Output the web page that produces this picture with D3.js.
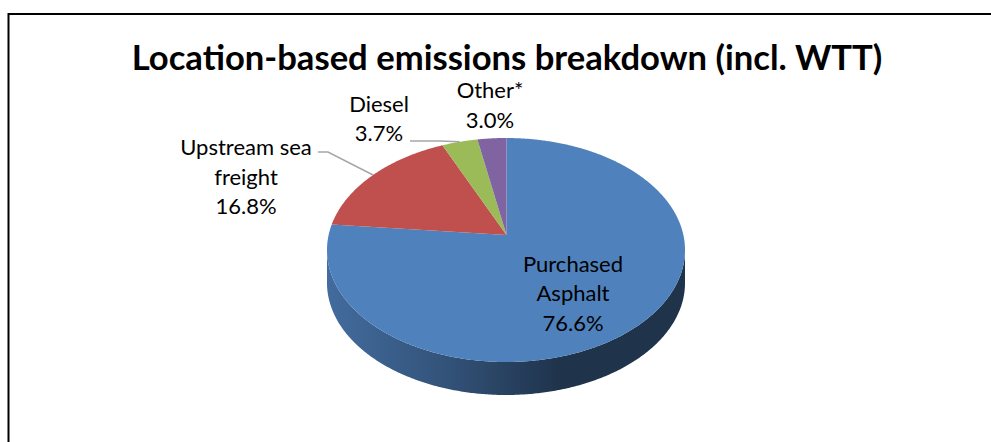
<!DOCTYPE html>
<html>
<head>
<meta charset="utf-8">
<script src="https://cdn.jsdelivr.net/npm/d3@7"></script>
<style>
  html, body { margin: 0; padding: 0; background: #fff; }
  svg { display: block; }
</style>
</head>
<body>
<svg id="chart" width="991" height="442"></svg>
<script>
// data
const categories = ["Purchased Asphalt", "Upstream sea freight", "Diesel", "Other*"];
const shares = [76.6, 16.8, 3.7, 3.0];
const labelLines = [["Purchased", "Asphalt"], ["Upstream sea", "freight"], ["Diesel"], ["Other*"]];
const colors = ["#4f81bd", "#c0504d", "#9bbb59", "#8064a2"];
const title = "Location-based emissions breakdown (incl. WTT)";

const width = 991, height = 442;
const svg = d3.select("#chart");

// geometry of the tilted pie (ellipse outline, apex pulled up by perspective)
const cx = 506, cy = 250, rx = 179, ry = 112;
const ax = 506.5, ay = 235;
const depth = 33;

// point on outline hit by the ray from apex for a pie angle
function rim(a) {
  const dx = rx * Math.sin(a), dy = -ry * Math.cos(a);
  const px = (ax - cx) / rx, py = (ay - cy) / ry;
  const qx = dx / rx, qy = dy / ry;
  const A = qx * qx + qy * qy, B = 2 * (px * qx + py * qy), C = px * px + py * py - 1;
  const t = (-B + Math.sqrt(B * B - 4 * A * C)) / (2 * A);
  return [ax + dx * t, ay + dy * t];
}

const pie = d3.pie().sort(null).value(d => d.value);
const arcs = pie(categories.map((c, i) => ({ name: c, value: shares[i], i })));

const line = d3.line();

// frame
svg.append("rect")
  .attr("x", 8.5).attr("y", 14)
  .attr("width", 1100).attr("height", 600)
  .attr("fill", "none")
  .attr("stroke", "#000")
  .attr("stroke-width", 2);

// title, fitted to the reference width
const titleText = svg.append("text")
  .attr("x", 507).attr("y", 69.5)
  .attr("text-anchor", "middle")
  .attr("font-family", "Lato, 'Open Sans', sans-serif")
  .attr("font-weight", 700)
  .attr("font-size", 32)
  .attr("fill", "#000")
  .text(title);
const tw = titleText.node().getComputedTextLength();
titleText.attr("font-size", 32 * 751 / tw);

// side wall gradient
const defs = svg.append("defs");
const grads = colors.map((c, i) => {
  const g = defs.append("linearGradient")
    .attr("id", "side" + i)
    .attr("gradientUnits", "userSpaceOnUse")
    .attr("x1", cx - rx).attr("x2", cx + rx)
    .attr("y1", 0).attr("y2", 0);
  [[0, 0.5], [0.35, 1.3], [0.65, 2.6], [1, 2.6]].forEach(([o, k]) => {
    g.append("stop").attr("offset", o).attr("stop-color", d3.color(c).darker(k));
  });
  return "url(#side" + i + ")";
});

// side walls: the front half of each slice's rim
const step = Math.PI / 360;
arcs.forEach(d => {
  const pts = [];
  for (let a = d.startAngle; a <= d.endAngle + 1e-9; a += step) {
    const p = rim(Math.min(a, d.endAngle));
    if (p[1] >= cy - 0.5) pts.push(p);
  }
  if (pts.length < 2) return;
  const lower = pts.slice().reverse().map(p => [p[0], p[1] + depth]);
  svg.append("path")
    .attr("d", line(pts.concat(lower)) + "Z")
    .attr("fill", grads[d.data.i]);
});

// top faces
svg.append("g")
  .selectAll("path")
  .data(arcs)
  .join("path")
    .attr("d", d => {
      const pts = [[ax, ay]];
      for (let a = d.startAngle; a < d.endAngle; a += step) pts.push(rim(a));
      pts.push(rim(d.endAngle));
      return line(pts) + "Z";
    })
    .attr("fill", d => colors[d.data.i]);

// labels
const fmt = d3.format(".1f");
const labelPos = [
  { x: 573, y: 271.7, inside: true },
  { x: 246, y: 155, lead: [[318, 152], [328, 152]] },
  { x: 379, y: 111.7, lead: [[410, 141], [440, 141]] },
  { x: 490, y: 98 }
];
const lineH = 29.5;

arcs.forEach(d => {
  const i = d.data.i, lp = labelPos[i];
  if (lp.lead) {
    const mid = rim((d.startAngle + d.endAngle) / 2);
    svg.append("path")
      .attr("d", line(lp.lead.concat([mid])))
      .attr("fill", "none")
      .attr("stroke", "#a6a6a6")
      .attr("stroke-width", 1.5);
  }
  const t = svg.append("text")
    .attr("text-anchor", "middle")
    .attr("font-family", "Lato, 'Open Sans', sans-serif")
    .attr("font-size", 22)
    .attr("fill", "#000");
  labelLines[i].concat([fmt(d.data.value) + "%"]).forEach((s, k) => {
    t.append("tspan")
      .attr("x", lp.x)
      .attr("y", lp.y + k * lineH)
      .text(s);
  });
});
</script>
</body>
</html>
